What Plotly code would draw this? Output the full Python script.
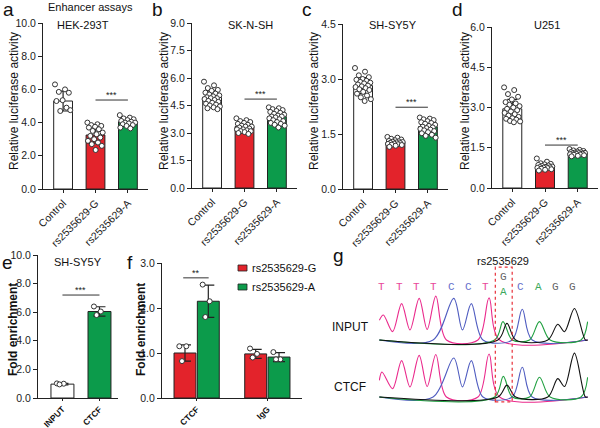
import plotly.graph_objects as go

W, H = 600, 428
def X(p): return p / W
def Y(p): return 1 - p / H

RED = "#e3232b"
GREEN = "#0c9b4b"
FONT = "Liberation Sans, Arial, sans-serif"
MONO = "Liberation Mono, Courier New, monospace"

# ---------------- data ----------------
top_groups = ["Control", "rs2535629-G", "rs2535629-A"]

# a: HEK-293T
a_means = [5.3, 3.25, 4.05]
a_sd = [0.6, 0.5, 0.2]
a_ctrl = [6.3, 6.0, 5.85, 5.8, 5.35, 5.3, 4.9, 4.7, 4.75]
a_G = [4.0, 3.9, 3.85, 3.8, 3.75, 3.7, 3.6, 3.5, 3.4, 3.3, 3.2, 3.1, 3.0, 2.9, 2.8, 2.7, 2.6, 2.35]
a_A = [4.45, 4.3, 4.25, 4.2, 4.15, 4.1, 4.05, 4.0, 4.0, 3.95, 3.9, 3.85, 3.8, 3.7, 3.65]

# b: SK-N-SH
b_means = [4.95, 3.35, 3.9]
b_sd = [0.35, 0.22, 0.3]
b_ctrl = [5.8, 5.6, 5.45, 5.35, 5.3, 5.2, 5.15, 5.1, 5.05, 5.0, 4.95, 4.9, 4.9, 4.85, 4.8,
          4.75, 4.7, 4.65, 4.6, 4.55, 4.5, 4.45, 4.4, 4.35, 4.3]
b_G = [3.8, 3.7, 3.65, 3.6, 3.55, 3.5, 3.45, 3.4, 3.35, 3.35, 3.3, 3.25, 3.2, 3.2, 3.15,
       3.1, 3.1, 3.05, 3.0, 2.95]
b_A = [4.4, 4.35, 4.3, 4.25, 4.2, 4.15, 4.1, 4.05, 4.0, 3.95, 3.9, 3.9, 3.85, 3.8, 3.75,
       3.7, 3.65, 3.6, 3.55, 3.5, 3.45, 3.4, 3.3]

# c: SH-SY5Y
c_means = [2.82, 1.27, 1.7]
c_sd = [0.22, 0.07, 0.15]
c_ctrl = [3.3, 3.2, 3.1, 3.05, 3.0, 2.98, 2.95, 2.92, 2.9, 2.88, 2.85, 2.82, 2.8, 2.78,
          2.75, 2.72, 2.7, 2.65, 2.6, 2.55, 2.5, 2.45, 2.4]
c_G = [1.42, 1.4, 1.37, 1.35, 1.33, 1.31, 1.3, 1.29, 1.28, 1.27, 1.26, 1.25, 1.24, 1.23,
       1.22, 1.21, 1.2, 1.18, 1.15]
c_A = [1.95, 1.92, 1.9, 1.88, 1.85, 1.82, 1.8, 1.78, 1.75, 1.72, 1.7, 1.68, 1.66, 1.64,
       1.62, 1.6, 1.58, 1.55, 1.52, 1.48, 1.45, 1.4]

# d: U251
d_means = [2.95, 0.8, 1.3]
d_sd = [0.35, 0.1, 0.07]
d_ctrl = [3.75, 3.65, 3.5, 3.4, 3.3, 3.2, 3.15, 3.1, 3.05, 3.0, 2.95, 2.9, 2.85, 2.8,
          2.75, 2.7, 2.65, 2.6, 2.58, 2.55, 2.5, 2.48, 2.45]
d_G = [1.1, 0.98, 0.92, 0.9, 0.88, 0.86, 0.84, 0.82, 0.8, 0.79, 0.78, 0.77, 0.76, 0.75,
       0.74, 0.72, 0.7, 0.68, 0.65]
d_A = [1.45, 1.42, 1.4, 1.38, 1.36, 1.34, 1.33, 1.32, 1.31, 1.3, 1.29, 1.28, 1.27, 1.26,
       1.25, 1.24, 1.22, 1.2, 1.18]

# e: ChIP SH-SY5Y
e_groups = ["INPUT", "CTCF"]
e_means = [0.97, 6.05]
e_sd = [0.05, 0.33]
e_input = [1.02, 1.0, 0.95]
e_ctcf = [6.4, 6.05, 5.8]

# f: allele-specific ChIP
f_groups = ["CTCF", "IgG"]
f_G_means = [1.0, 0.98]
f_G_sd = [0.18, 0.1]
f_A_means = [2.15, 0.91]
f_A_sd = [0.36, 0.1]
f_G_pts = [[1.15, 1.15, 0.82], [1.1, 0.98, 0.9]]
f_A_pts = [[2.52, 2.15, 1.8], [1.02, 0.86, 0.86]]

# g: chromatogram (base index, relative signal)
g_bases = ["T", "T", "T", "T", "C", "C", "T", "", "C", "A", "G", "G"]
g_base_colors = {"T": "#e8479a", "C": "#6670cc", "A": "#3aa85a", "G": "#666666"}
inp_pink = [(-0.13, 0.45), (0.10, 0.57), (0.63, 0.19), (1.15, 0.83), (1.63, 0.23), (2.16, 0.95),
            (2.62, 0.24), (3.12, 1.0), (3.73, 0.0), (5.54, 0.0), (6.18, 0.96), (6.79, 0.0), (11.85, 0.0)]
inp_blue = [(-0.13, 0.0), (2.96, 0.0), (4.15, 0.95), (4.65, 0.23), (5.16, 0.83), (5.83, 0.0),
            (7.51, 0.0), (8.09, 0.70), (8.66, 0.0), (11.85, 0.0)]
inp_green = [(-0.13, 0.0), (6.50, 0.0), (6.98, 0.42), (7.51, 0.0), (8.51, 0.0), (9.08, 0.42),
             (9.69, 0.0), (11.47, 0.0), (11.85, 0.42)]
inp_black = [(-0.13, 0.0), (6.69, 0.0), (7.21, 0.38), (7.71, 0.0), (9.56, 0.0), (10.13, 0.36),
             (10.52, 0.19), (11.09, 0.72), (11.72, 0.0), (11.85, 0.0)]
ctcf_pink = [(-0.13, 0.38), (0.02, 0.57), (0.63, 0.19), (1.15, 0.83), (1.63, 0.23), (2.16, 0.95),
             (2.62, 0.24), (3.12, 0.97), (3.73, 0.0), (5.54, 0.0), (6.18, 0.98), (6.79, 0.0), (11.85, 0.0)]
ctcf_blue = [(-0.13, 0.0), (2.96, 0.0), (4.15, 0.89), (4.65, 0.23), (5.16, 0.83), (5.83, 0.0),
             (7.51, 0.0), (8.09, 0.68), (8.66, 0.0), (11.85, 0.0)]
ctcf_green = [(-0.13, 0.0), (6.50, 0.0), (7.0, 0.47), (7.51, 0.0), (8.51, 0.0), (9.08, 0.45),
              (9.69, 0.0), (11.47, 0.0), (11.85, 0.45)]
ctcf_black = [(-0.13, 0.0), (6.69, 0.0), (7.21, 0.27), (7.71, 0.0), (9.56, 0.0), (10.13, 0.42),
              (10.52, 0.24), (11.09, 1.0), (11.72, 0.0), (11.85, 0.0)]
INPUT_OFFSET = 1.3  # vertical offset of INPUT trace above CTCF trace

# ---------------- figure ----------------
fig = go.Figure()
layout = dict(width=W, height=H, margin=dict(l=0, r=0, t=0, b=0),
              paper_bgcolor="white", plot_bgcolor="white", showlegend=False,
              barmode="overlay", font=dict(family=FONT, color="#111"))
annotations = []
shapes = []

def note(x, y, text, size=11, xanchor="center", **kw):
    d = dict(xref="paper", yref="paper", x=x, y=y, text=text, showarrow=False,
             xanchor=xanchor, yanchor="middle", font=dict(size=size, color="#111"))
    d.update(kw)
    annotations.append(d)

def jitter(n, spread):
    return [(((i * 0.618034) % 1) - 0.5) * spread for i in range(n)]

def axis_pair(k, xpx, ypx, yr, dtick, xr, ticktext, tickfont, tickangle, xticklen=3):
    xa = dict(domain=[X(xpx[0]), X(xpx[1])], range=xr, anchor=f"y{k}",
              showline=True, linecolor="#222", linewidth=1, showgrid=False, zeroline=False,
              tickvals=list(range(len(ticktext))), ticktext=ticktext, ticks="outside",
              ticklen=xticklen, tickcolor="#222", tickangle=tickangle, tickfont=tickfont,
              fixedrange=True, automargin=False)
    ya = dict(domain=[Y(ypx[1]), Y(ypx[0])], range=yr, anchor=f"x{k}",
              showline=True, linecolor="#222", linewidth=1, showgrid=False, zeroline=False,
              dtick=dtick, tick0=0, tickformat=".1f", ticks="outside", ticklen=4,
              tickcolor="#222", tickfont=dict(size=10.5, family=FONT, color="#222"),
              fixedrange=True, automargin=False)
    layout[f"xaxis{k}"] = xa
    layout[f"yaxis{k}"] = ya

def points(k, xc, vals, spread):
    offs = jitter(len(vals), spread)
    fig.add_trace(go.Scatter(x=[xc + o for o in offs], y=vals, mode="markers",
                             xaxis=f"x{k}", yaxis=f"y{k}", hoverinfo="skip",
                             marker=dict(symbol="circle", size=5, color="white",
                                         line=dict(color="#333", width=1))))

top_panels = [
    dict(k=1, xpx=(43, 148), ypx=(23, 189), yr=[0, 10], dt=2, means=a_means, sd=a_sd,
         pts=[a_ctrl, a_G, a_A], sig=5.36, title="HEK-293T", tx=83, letter="a", lx=1, ytx=14),
    dict(k=2, xpx=(192, 297), ypx=(23, 188), yr=[0, 9], dt=1.5, means=b_means, sd=b_sd,
         pts=[b_ctrl, b_G, b_A], sig=4.85, title="SK-N-SH", tx=250, letter="b", lx=150, ytx=164),
    dict(k=3, xpx=(343, 448), ypx=(24, 189), yr=[0, 4.5], dt=1.5, means=c_means, sd=c_sd,
         pts=[c_ctrl, c_G, c_A], sig=2.23, title="SH-SY5Y", tx=393, letter="c", lx=300, ytx=314),
    dict(k=4, xpx=(492, 598), ypx=(27, 188), yr=[0, 6], dt=1.5, means=d_means, sd=d_sd,
         pts=[d_ctrl, d_G, d_A], sig=1.6, title="U251", tx=547, letter="d", lx=450, ytx=465),
]

for p in top_panels:
    k = p["k"]
    axis_pair(k, p["xpx"], p["ypx"], p["yr"], p["dt"], [-0.62, 2.62], top_groups,
              dict(size=10.5, family=FONT, color="#222"), -45)
    fig.add_trace(go.Bar(x=[0, 1, 2], y=p["means"], width=0.58, xaxis=f"x{k}", yaxis=f"y{k}",
                         marker=dict(color=["white", RED, GREEN], line=dict(color="#222", width=1)),
                         error_y=dict(type="data", array=p["sd"], color="#222", thickness=1.2, width=5),
                         hoverinfo="skip"))
    for i, vals in enumerate(p["pts"]):
        points(k, i, vals, 0.5)
    shapes.append(dict(type="line", xref=f"x{k}", yref=f"y{k}", x0=1, x1=2, y0=p["sig"], y1=p["sig"],
                       line=dict(color="#333", width=1)))
    annotations.append(dict(xref=f"x{k}", yref=f"y{k}", x=1.5, y=p["sig"], text="***", showarrow=False,
                            xanchor="center", yanchor="bottom", yshift=-2, font=dict(size=9, color="#222")))
    note(X(p["tx"]), Y(25), p["title"], 11)
    note(X(p["lx"]), Y(9), p["letter"], 19, xanchor="left")
    note(X(p["ytx"]), Y(101), "Relative luciferase activity", 12, textangle=-90)

note(X(90), Y(7), "Enhancer assays", 11)

# ---- panel e ----
axis_pair(5, (38, 118), (255, 398), [0, 10], 2, [-0.66, 1.5], e_groups,
          dict(size=8.5, family=FONT, color="#111", weight="bold"), -45, xticklen=2)
fig.add_trace(go.Bar(x=[0, 1], y=e_means, width=0.62, xaxis="x5", yaxis="y5",
                     marker=dict(color=["white", GREEN], line=dict(color="#222", width=1)),
                     error_y=dict(type="data", array=e_sd, color="#222", thickness=1.2, width=6),
                     hoverinfo="skip"))
points(5, 0, e_input, 0.3)
points(5, 1, e_ctcf, 0.3)
shapes.append(dict(type="line", xref="x5", yref="y5", x0=0, x1=1, y0=7.2, y1=7.2,
                   line=dict(color="#333", width=1)))
annotations.append(dict(xref="x5", yref="y5", x=0.5, y=7.2, text="***", showarrow=False,
                        xanchor="center", yanchor="bottom", yshift=-2, font=dict(size=9, color="#222")))
note(X(78), Y(262), "SH-SY5Y", 11)
note(X(0), Y(262), "e", 19, xanchor="left")
note(X(13), Y(330), "<b>Fold enrichment</b>", 12, textangle=-90)

# ---- panel f ----
axis_pair(6, (162, 302), (263, 398), [0, 3], 1, [-0.49, 1.49], f_groups,
          dict(size=8.5, family=FONT, color="#111", weight="bold"), -45, xticklen=2)
f_off = 0.165
fig.add_trace(go.Bar(x=[i - f_off for i in range(2)], y=f_G_means, width=0.31, xaxis="x6", yaxis="y6",
                     marker=dict(color=RED, line=dict(color="#222", width=1)),
                     error_y=dict(type="data", array=f_G_sd, color="#222", thickness=1.2, width=6),
                     hoverinfo="skip"))
fig.add_trace(go.Bar(x=[i + f_off for i in range(2)], y=f_A_means, width=0.31, xaxis="x6", yaxis="y6",
                     marker=dict(color=GREEN, line=dict(color="#222", width=1)),
                     error_y=dict(type="data", array=f_A_sd, color="#222", thickness=1.2, width=6),
                     hoverinfo="skip"))
for i in range(2):
    points(6, i - f_off, f_G_pts[i], 0.16)
    points(6, i + f_off, f_A_pts[i], 0.16)
shapes.append(dict(type="line", xref="x6", yref="y6", x0=-0.19, x1=0.17, y0=2.67, y1=2.67,
                   line=dict(color="#333", width=1)))
annotations.append(dict(xref="x6", yref="y6", x=-0.01, y=2.67, text="**", showarrow=False,
                        xanchor="center", yanchor="bottom", yshift=-2, font=dict(size=9, color="#222")))
note(X(125), Y(262), "f", 19, xanchor="left")
note(X(141), Y(330), "<b>Fold enrichment</b>", 12, textangle=-90)
# legend swatches
for (lbl, col, ypx) in [("rs2535629-G", RED, 268), ("rs2535629-A", GREEN, 287)]:
    shapes.append(dict(type="rect", xref="paper", yref="paper", x0=X(238), x1=X(247),
                       y0=Y(ypx + 3), y1=Y(ypx - 3), fillcolor=col, line=dict(color="#222", width=0.8)))
    note(X(250), Y(ypx), lbl, 11, xanchor="left")

# ---- panel g ----
layout["xaxis7"] = dict(domain=[X(379), X(588)], range=[-0.15, 11.87], anchor="y7", visible=False,
                        fixedrange=True)
layout["yaxis7"] = dict(domain=[Y(406), Y(258)], range=[-0.205, 3.17], anchor="x7", visible=False,
                        fixedrange=True)
traces_g = [(inp_pink, "#ea2a8c", INPUT_OFFSET), (inp_blue, "#4f5cc0", INPUT_OFFSET),
            (inp_green, "#20a040", INPUT_OFFSET), (inp_black, "#111111", INPUT_OFFSET),
            (ctcf_pink, "#ea2a8c", 0.0), (ctcf_blue, "#4f5cc0", 0.0),
            (ctcf_green, "#20a040", 0.0), (ctcf_black, "#111111", 0.0)]
for pts, col, off in traces_g:
    fig.add_trace(go.Scatter(x=[q[0] for q in pts], y=[q[1] + off for q in pts], mode="lines",
                             line=dict(color=col, width=1.1, shape="spline", smoothing=0.9),
                             xaxis="x7", yaxis="y7", hoverinfo="skip"))
for i, b in enumerate(g_bases):
    if b:
        annotations.append(dict(xref="x7", yref="y7", x=i, y=2.51, text=b, showarrow=False,
                                font=dict(size=11, family=MONO, color=g_base_colors[b])))
annotations.append(dict(xref="x7", yref="y7", x=7, y=2.74, text="G", showarrow=False,
                        font=dict(size=11, family=MONO, color=g_base_colors["G"])))
annotations.append(dict(xref="x7", yref="y7", x=7, y=2.40, text="A", showarrow=False,
                        font=dict(size=11, family=MONO, color=g_base_colors["A"])))
annotations.append(dict(xref="x7", yref="y7", x=6.98, y=3.1, text="rs2535629", showarrow=False,
                        font=dict(size=11, color="#111")))
shapes.append(dict(type="rect", xref="x7", yref="y7", x0=6.54, x1=7.51, y0=-0.11, y1=2.96,
                   line=dict(color="#e8303a", width=1.2, dash="dot")))
note(X(350), Y(327), "INPUT", 12)
note(X(350), Y(387), "CTCF", 12)
note(X(331), Y(255), "g", 19, xanchor="left")

layout["annotations"] = annotations
layout["shapes"] = shapes
fig.update_layout(**layout)
fig.write_html("out.html", config={"displayModeBar": False, "staticPlot": True},
               post_script="document.body.style.margin='0';document.body.style.overflow='hidden';")
